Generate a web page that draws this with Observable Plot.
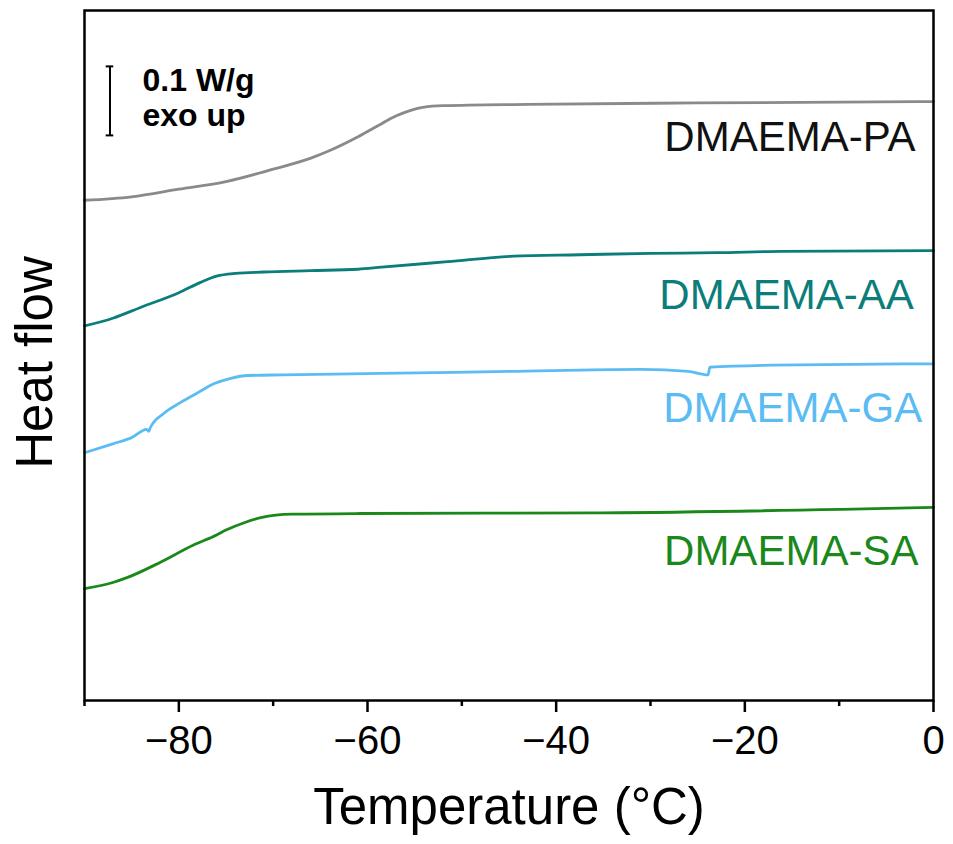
<!DOCTYPE html>
<html><head><meta charset="utf-8">
<script src="https://cdn.jsdelivr.net/npm/d3@7"></script>
<script src="https://cdn.jsdelivr.net/npm/@observablehq/plot@0.6"></script>
<style>body{margin:0;background:#fff;} #chart svg{display:block;}</style>
</head><body><div id="chart"></div>
<script>
// Series names and colours
const names = ["DMAEMA-PA", "DMAEMA-AA", "DMAEMA-GA", "DMAEMA-SA"];
const lineColors = ["#8a8a8a", "#0b7d7a", "#5bbcf3", "#1b881b"];
const labelColors = ["#111111", "#0b7d7a", "#5bbcf3", "#1b881b"];

// Temperature (°C) and heat flow (W/g, stacked offsets) for each series
const paT = [-90, -85, -80, -75, -70, -66, -64, -61, -58.5, -57, -55.5, -54, -52, -43, -25, 0];
const paV = [0.725, 0.730, 0.741, 0.752, 0.770, 0.786, 0.797, 0.817, 0.836, 0.847, 0.855, 0.860, 0.862, 0.864, 0.866, 0.868];

const aaT = [-90, -87, -84, -80, -77.7, -76, -74, -71, -66, -61, -58.5, -51.5, -44.5, -37.5, -30, -23, -16, 0];
const aaV = [0.543, 0.554, 0.570, 0.591, 0.606, 0.615, 0.619, 0.621, 0.623, 0.625, 0.628, 0.636, 0.644, 0.646, 0.648, 0.649, 0.651, 0.652];

const gaT = [-90, -87, -85, -83.4, -83.2, -83.0, -81.6, -79.8, -78, -76.3, -74.5, -72.7, -69, -58.6, -45, -31, -26, -23.9, -23.7, -17, 0];
const gaV = [0.359, 0.372, 0.381, 0.393, 0.390, 0.396, 0.416, 0.432, 0.446, 0.459, 0.467, 0.471, 0.472, 0.474, 0.477, 0.480, 0.477, 0.472, 0.483, 0.486, 0.488];

const saT = [-90, -87, -85.5, -82, -78.5, -76, -75, -73, -71.3, -68, -60.7, -35, 0];
const saV = [0.162, 0.171, 0.178, 0.200, 0.225, 0.240, 0.247, 0.258, 0.265, 0.270, 0.271, 0.272, 0.280];

// Curve label anchors (temperature, heat flow baseline)
const labelT = [-1.9, -2.1, -1.2, -1.6];
const labelV = [0.797, 0.568, 0.403, 0.197];

// Axis ticks
const majorTicks = [-80, -60, -40, -20, 0];
const minorTicks = [-90, -70, -50, -30, -10];

// Scale bar: 0.1 W/g
const barT = -87.3;
const barLow = 0.819;
const barHigh = 0.919;
const barText = ["0.1 W/g", "exo up"];
const barTextT = -83.85;
const barTextV = [0.884, 0.833];

const allT = [paT, aaT, gaT, saT];
const allV = [paV, aaV, gaV, saV];
const rows = [];
names.forEach((n, i) => allT[i].forEach((t, j) => rows.push({name: n, t, v: allV[i][j]})));

const labels = names.map((n, i) => ({name: n, t: labelT[i], v: labelV[i], color: labelColors[i]}));

const font = "'Liberation Sans', Arial, Helvetica, sans-serif";

const chart = Plot.plot({
  width: 953, height: 844,
  marginLeft: 84, marginRight: 20, marginTop: 10, marginBottom: 144,
  style: {fontFamily: font, background: "white", color: "black"},
  x: {domain: [-90, 0]},
  y: {domain: [0, 1], axis: null},
  color: {domain: names, range: lineColors},
  marks: [
    Plot.line(rows, {x: "t", y: "v", z: "name", stroke: "name", strokeWidth: 2.8, curve: "monotone-x"}),
    ...labels.map(l => Plot.text([l], {x: "t", y: "v", text: "name", fill: l.color, fontSize: 42, textAnchor: "end", lineAnchor: "bottom"})),
    Plot.ruleX([barT], {x: d => d, y1: barLow, y2: barHigh, stroke: "black", strokeWidth: 2}),
    Plot.ruleY([barLow, barHigh], {y: d => d, x1: barT - 0.4, x2: barT + 0.4, stroke: "black", strokeWidth: 2}),
    Plot.text(barText, {text: d => d, x: barTextT, y: (d, i) => barTextV[i], fontSize: 32, fontWeight: "bold", textAnchor: "start", lineAnchor: "bottom", fill: "black"}),
    Plot.axisX({ticks: minorTicks, tickSize: 6, text: null, strokeWidth: 2.5, label: null}),
    Plot.axisX({ticks: majorTicks, tickSize: 12, tickPadding: 13, fontSize: 40, strokeWidth: 2.5, label: null, tickFormat: d => d === 0 ? "0" : "\u2212" + Math.abs(d)}),
    Plot.frame({stroke: "black", strokeWidth: 2.5}),
    Plot.text(["Temperature (\u00B0C)"], {text: d => d, frameAnchor: "bottom", textAnchor: "middle", dy: 123, lineAnchor: "bottom", fontSize: 51, fill: "black"}),
    Plot.text(["Heat flow"], {text: d => d, frameAnchor: "left", textAnchor: "middle", rotate: -90, dx: -33, dy: 7, lineAnchor: "bottom", fontSize: 51, fill: "black"})
  ]
});
document.getElementById("chart").appendChild(chart);
</script>
</body></html>
